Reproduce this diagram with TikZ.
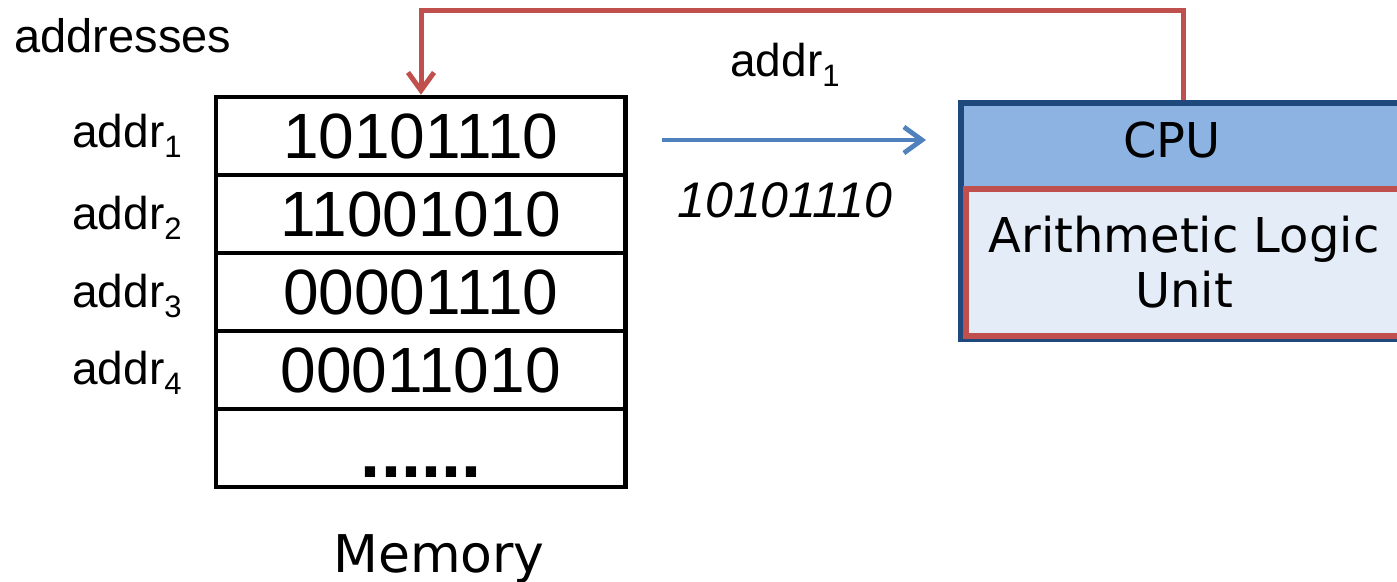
\documentclass[tikz,border=0pt]{standalone}
\usepackage{fontspec}
\setmainfont{Liberation Sans}
\newfontfamily\verdanaish{DejaVu Sans}
\usetikzlibrary{arrows.meta}
\definecolor{cpured}{HTML}{C0504D}
\definecolor{cpublue}{HTML}{4F81BD}
\definecolor{cpunavy}{HTML}{1F497D}
\definecolor{cpuhead}{HTML}{8DB3E2}
\definecolor{alufill}{HTML}{E4ECF7}
\newcommand\mysub[1]{\raisebox{-5pt}{\fontsize{15.5}{15.5}\selectfont #1}}
\tikzset{
  memcell/.style={draw=black, line width=2.3pt, minimum width=204.75pt, minimum height=39pt, inner sep=0pt, font=\fontsize{32}{32}\selectfont},
  addrlabel/.style={anchor=base east, inner sep=0pt, font=\fontsize{23}{23}\selectfont},
  redarrow/.style={draw=cpured, line width=2.5pt, -{Straight Barb[length=9pt,width=13pt]}},
  bluearrow/.style={draw=cpublue, line width=2.4pt, -{Straight Barb[length=9pt,width=13pt]}},
  verd/.style={font=\verdanaish\fontsize{24}{27.5}\selectfont}
}
\begin{document}
\begin{tikzpicture}[x=0.5pt,y=-0.5pt]
\clip (0,0) rectangle (1397,582);
\fill[white] (0,0) rectangle (1397,582);

% memory cells
\node[memcell] (cell1) at (420.75,136) {10101110};
\node[memcell] (cell2) at (420.75,214) {11001010};
\node[memcell] (cell3) at (420.75,292) {00001110};
\node[memcell] (cell4) at (420.75,370) {00011010};
\node[memcell] (cell5) at (420.75,448) {};
\node[anchor=base, inner sep=0pt, font=\bfseries\fontsize{36}{36}\selectfont] (dots) at (421,477) {......};

% labels
\node[anchor=base west, inner sep=0pt, font=\fontsize{23.5}{23.5}\selectfont] (addresses) at (14,53) {addresses};
\node[addrlabel] (a1) at (182,148) {addr\mysub{1}};
\node[addrlabel] (a2) at (182,230) {addr\mysub{2}};
\node[addrlabel] (a3) at (182,308) {addr\mysub{3}};
\node[addrlabel] (a4) at (182,385) {addr\mysub{4}};
\node[verd, anchor=base, inner sep=0pt, font=\verdanaish\fontsize{26}{26}\selectfont] (memlabel) at (439,572) {Memory};

% CPU
\node[anchor=north west, draw=cpunavy, fill=cpuhead, line width=3pt, minimum width=241pt, minimum height=117.75pt, inner sep=0pt] (cpu) at (958,100.5) {};
\node[anchor=north west, draw=cpured, fill=alufill, line width=3pt, minimum width=240pt, minimum height=73.25pt, inner sep=0pt] (alu) at (962.5,186.5) {};
\node[verd, anchor=base, inner sep=0pt] (cputext) at (1172,158) {CPU};
\node[verd, align=center, inner sep=0pt] (alutext) at (1184,262) {Arithmetic Logic\\Unit};

% connectors
\coordinate (rtop) at (1183.5,11);
\coordinate (ltop) at (421,11);
\draw[redarrow] (rtop |- cpu.north) -- (rtop) -- (ltop) -- (ltop |- cell1.north);
\node[anchor=base, inner sep=0pt, font=\fontsize{23}{23}\selectfont] (addrtop) at (785,77) {addr\mysub{1}};

\coordinate (bs) at (662,140);
\coordinate (be) at (926,140);
\draw[bluearrow] (bs) -- (be);
\node[anchor=base, inner sep=0pt, font=\itshape\fontsize{25}{25}\selectfont] (data) at (785,218) {10101110};
\end{tikzpicture}
\end{document}
